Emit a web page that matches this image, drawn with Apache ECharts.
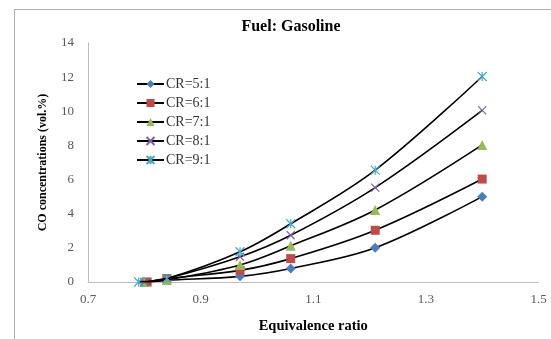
<!DOCTYPE html>
<html>
<head>
<meta charset="utf-8">
<script src="https://cdn.jsdelivr.net/npm/echarts@6/dist/echarts.min.js"></script>
<style>
  html, body { margin: 0; padding: 0; background: #fff; }
  #chart { width: 551px; height: 339px; }
</style>
</head>
<body>
<div id="chart"></div>
<script>
// Equivalence ratio (x) and CO concentration in vol.% (y) per compression ratio
const seriesNames = ['CR=5:1', 'CR=6:1', 'CR=7:1', 'CR=8:1', 'CR=9:1'];
const phiCR5 = [0.80, 0.84, 0.97, 1.06, 1.21, 1.40];
const coCR5  = [0.00, 0.10, 0.33, 0.79, 2.00, 5.00];
const phiCR6 = [0.805, 0.84, 0.97, 1.06, 1.21, 1.40];
const coCR6  = [0.00, 0.20, 0.68, 1.37, 3.03, 6.03];
const phiCR7 = [0.80, 0.84, 0.97, 1.06, 1.21, 1.40];
const coCR7  = [0.00, 0.12, 1.00, 2.12, 4.22, 8.03];
const phiCR8 = [0.80, 0.84, 0.97, 1.06, 1.21, 1.40];
const coCR8  = [0.00, 0.20, 1.48, 2.74, 5.53, 10.05];
const phiCR9 = [0.79, 0.84, 0.97, 1.06, 1.21, 1.40];
const coCR9  = [0.00, 0.20, 1.77, 3.41, 6.55, 12.04];
const xTicks = [0.7, 0.9, 1.1, 1.3, 1.5];
const yTicks = [0, 2, 4, 6, 8, 10, 12, 14];

const phiSets = [phiCR5, phiCR6, phiCR7, phiCR8, phiCR9];
const coSets = [coCR5, coCR6, coCR7, coCR8, coCR9];

const markerColors = ['#4a7ebb', '#be4b48', '#98b954', '#7d60a0', '#46aac4'];
const markerShapes = [
  'diamond',
  'rect',
  'triangle',
  'path://M0,0L10,10M10,0L0,10',
  'path://M0,0L10,10M10,0L0,10M5,0L5,10'
];
const markerSizes = [10, 9, 10, 8, 9];
const serif = '"Liberation Serif", "DejaVu Serif", serif';

const series = seriesNames.map((name, i) => ({
  name: name,
  type: 'line',
  smooth: 0.35,
  data: phiSets[i].map((x, k) => [x, coSets[i][k]]),
  symbol: markerShapes[i],
  symbolSize: markerSizes[i],
  showAllSymbol: true,
  lineStyle: { color: '#000', width: 1.6 },
  itemStyle: {
    color: markerColors[i],
    borderColor: markerColors[i],
    borderWidth: i >= 3 ? 1.2 : 0
  },
  emphasis: { disabled: true },
  z: 2 + i
}));

const chart = echarts.init(document.getElementById('chart'), null, { renderer: 'canvas' });
chart.setOption({
  animation: false,
  backgroundColor: '#fff',
  title: {
    text: 'Fuel: Gasoline',
    left: 286,
    top: 14,
    textAlign: 'center',
    textStyle: { fontFamily: serif, fontWeight: 'bold', fontSize: 16, color: '#000' }
  },
  graphic: [{
    type: 'rect',
    shape: { x: 14.5, y: 9.5, width: 600, height: 400 },
    style: { fill: 'none', stroke: '#b0b0b0', lineWidth: 1 },
    silent: true,
    z: 0
  }],
  legend: {
    orient: 'vertical',
    left: 131,
    top: 72,
    itemWidth: 27,
    itemHeight: 10,
    itemGap: 5,
    data: seriesNames,
    textStyle: { fontFamily: serif, fontSize: 14, color: '#333', lineHeight: 14, padding: [0, 0, 0, -3] }
  },
  grid: { left: 88, right: 12.5, top: 43, bottom: 53, containLabel: false },
  xAxis: {
    type: 'value',
    min: xTicks[0],
    max: xTicks[xTicks.length - 1],
    interval: 0.2,
    name: 'Equivalence ratio',
    nameLocation: 'middle',
    nameGap: 37,
    nameTextStyle: { fontFamily: serif, fontWeight: 'bold', fontSize: 14.5, color: '#000' },
    axisLine: { lineStyle: { color: '#bdbdbd', width: 1 } },
    axisTick: { show: false },
    splitLine: { show: false },
    axisLabel: {
      margin: 11,
      fontFamily: serif, fontSize: 13, color: '#595959',
      formatter: v => v.toFixed(1)
    }
  },
  yAxis: {
    type: 'value',
    min: yTicks[0],
    max: yTicks[yTicks.length - 1],
    interval: 2,
    name: 'CO concentrations (vol.%)',
    nameLocation: 'middle',
    nameRotate: 90,
    nameGap: 39,
    nameTextStyle: { fontFamily: serif, fontWeight: 'bold', fontSize: 12, color: '#000' },
    axisLine: { show: true, lineStyle: { color: '#bdbdbd', width: 1 } },
    axisTick: { show: false },
    splitLine: { show: false },
    axisLabel: { margin: 14, fontFamily: serif, fontSize: 13, color: '#595959' }
  },
  series: series
});
</script>
</body>
</html>
